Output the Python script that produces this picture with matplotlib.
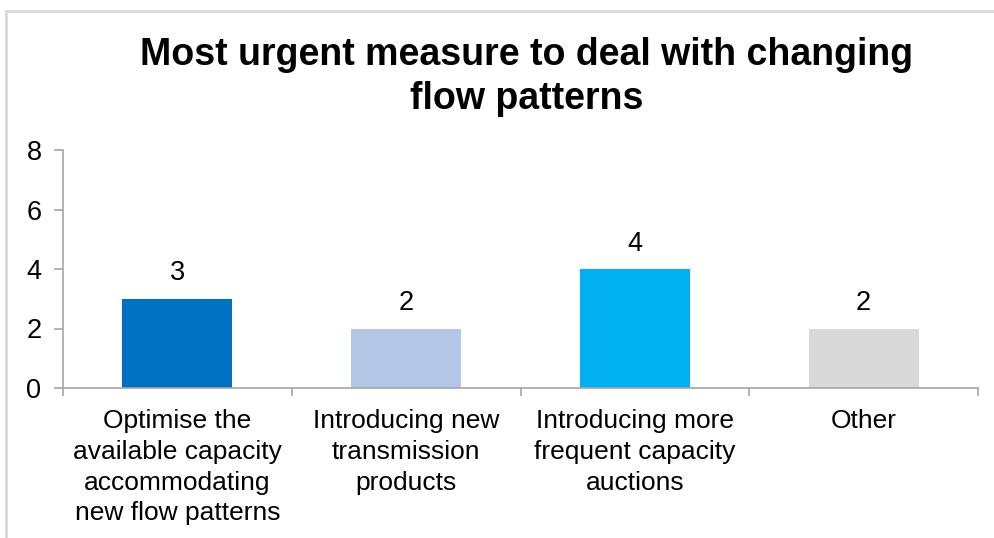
import matplotlib
matplotlib.use("Agg")
import matplotlib.pyplot as plt
from matplotlib.lines import Line2D

categories = ["Optimise the\navailable capacity\naccommodating\nnew flow patterns",
              "Introducing new\ntransmission\nproducts",
              "Introducing more\nfrequent capacity\nauctions",
              "Other"]
values = [3, 2, 4, 2]
colors = ["#0070C0", "#B4C7E7", "#00B0F0", "#D9D9D9"]
yticks = [0, 2, 4, 6, 8]
title = "Most urgent measure to deal with changing\nflow patterns"

FONT = "Liberation Sans"
W, H = 994, 538
fig = plt.figure(figsize=(W/100, H/100), dpi=100)
ax = fig.add_axes([63/W, 1-388/H, (978-63)/W, (388-150)/H])

x = list(range(len(values)))
ax.bar(x, values, width=0.48, color=colors)
for xi, v in zip(x, values):
    ax.text(xi, v + 0.85, str(v), ha="center", va="center", fontsize=19.5,
            family=FONT, color="#000000")

ax.set_xlim(-0.5, len(values) - 0.5)
ax.set_ylim(0, 8)
ax.set_yticks(yticks)
ax.set_yticklabels([str(t) for t in yticks], fontsize=19.5, family=FONT)
ax.set_xticks([i - 0.5 for i in range(len(values) + 1)], minor=False)
ax.set_xticklabels([])
ax.set_xticks(x, minor=True)
ax.set_xticklabels(categories, minor=True, fontsize=19, family=FONT,
                   linespacing=1.36, va="top")
ax.tick_params(axis="x", which="minor", length=0, pad=15)
ax.tick_params(axis="x", which="major", length=6, color="#A6A6A6", direction="out", width=1.2)
ax.tick_params(axis="y", length=6.5, color="#A6A6A6", direction="out", pad=9, width=1.2)
for s in ["top", "right"]:
    ax.spines[s].set_visible(False)
for s in ["left", "bottom"]:
    ax.spines[s].set_color("#A6A6A6")
    ax.spines[s].set_linewidth(1.2)

fig.text(527/W, 1-77/H, title, ha="center", va="center", fontsize=27,
         fontweight="bold", family=FONT, linespacing=1.3)

# outer frame (chart area border)
fig.add_artist(Line2D([6/W, 1], [1-11/H, 1-11/H], color="#D9D9D9", lw=2, transform=fig.transFigure))
fig.add_artist(Line2D([6/W, 6/W], [0, 1-11/H], color="#D9D9D9", lw=2, transform=fig.transFigure))

fig.savefig("out.png", dpi=100)
